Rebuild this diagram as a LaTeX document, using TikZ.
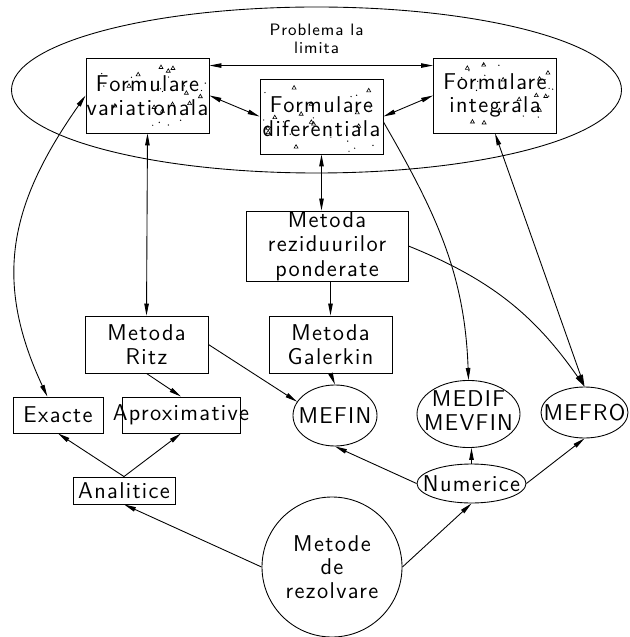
\documentclass[tikz,border=0pt]{standalone}
\usepackage{fontspec}
\setsansfont{Latin Modern Sans}[LetterSpace=6]
\usepackage{tikz}
\usetikzlibrary{shapes.geometric,arrows.meta}
\tikzset{
  frmnode/.style={draw,rectangle,minimum width=2.46cm,minimum height=1.50cm,
    font=\sffamily\fontsize{13}{13.5}\selectfont,align=center,inner sep=0pt},
  metnode/.style={draw,rectangle,
    font=\sffamily\fontsize{13}{14}\selectfont,align=center,inner sep=0pt},
  elnode/.style={draw,ellipse,
    font=\sffamily\fontsize{13}{13.5}\selectfont,align=center,inner sep=0pt},
  edgeB/.style={<->,line width=0.5pt},
  edgeO/.style={->,line width=0.5pt},
}
\newcommand{\stipple}[2]{%
  \pgfmathsetseed{#2}%
  \foreach \k in {1,...,12}{
    \pgfmathsetmacro{\stx}{1.12*rand}
    \pgfmathsetmacro{\sty}{0.66*rand}
    \draw[line width=0.35pt] ([shift={(\stx,\sty)}]#1.center) -- ++(0.08,0) -- ++(-0.04,0.07) -- cycle;
  }
  \foreach \k in {1,...,14}{
    \pgfmathsetmacro{\stx}{1.18*rand}
    \pgfmathsetmacro{\sty}{0.70*rand}
    \fill ([shift={(\stx,\sty)}]#1.center) circle (0.014);
  }
}

\begin{document}
\begin{tikzpicture}[line width=0.5pt,>={Triangle[length=2.4mm,width=0.9mm]}]
  \useasboundingbox (0,0) rectangle (12.58,-12.74);
  \node[draw,ellipse,minimum width=12.2cm,minimum height=3.32cm,inner sep=0pt] (pb) at (6.33,-1.80) {};
  \node[font=\sffamily\fontsize{9.4}{10.5}\selectfont,align=center] (pbl) at (6.33,-0.78) {Problema la\\limita};
  \node[frmnode] (var) at (2.95,-1.91) {Formulare\\variationala};
  \node[frmnode] (dif) at (6.43,-2.33) {Formulare\\diferentiala};
  \node[frmnode] (int) at (9.90,-1.91) {Formulare\\integrala};
  \stipple{var}{11}
  \stipple{dif}{23}
  \stipple{int}{37}
  \node[metnode,minimum width=3.24cm,minimum height=1.40cm] (rez) at (6.54,-4.92) {Metoda\\reziduurilor\\ponderate};
  \node[metnode,minimum width=2.46cm,minimum height=1.14cm] (ritz) at (2.93,-6.89) {Metoda\\Ritz};
  \node[metnode,minimum width=2.46cm,minimum height=1.14cm] (gal) at (6.61,-6.89) {Metoda\\Galerkin};
  \node[metnode,minimum width=1.80cm,minimum height=0.72cm] (exa) at (1.16,-8.30) {Exacte};
  \node[metnode,minimum width=2.36cm,minimum height=0.72cm] (apr) at (3.62,-8.30) {\makebox[0pt]{Aproximative}};
  \node[metnode,minimum width=2.04cm,minimum height=0.54cm] (ana) at (2.48,-9.81) {Analitice};
  \node[elnode,minimum width=1.68cm,minimum height=1.22cm] (mefin) at (6.70,-8.31) {\makebox[0pt]{MEFIN}};
  \node[elnode,minimum width=2.06cm,minimum height=1.28cm] (medif) at (9.37,-8.28) {\makebox[0pt]{\begin{tabular}{@{}c@{}}MEDIF\\MEVFIN\end{tabular}}};
  \node[elnode,minimum width=1.74cm,minimum height=1.02cm] (mefro) at (11.69,-8.25) {\makebox[0pt]{MEFRO}};
  \node[elnode,minimum width=2.18cm,minimum height=0.78cm] (num) at (9.43,-9.67) {\makebox[0pt]{Numerice}};
  \node[elnode,minimum width=2.80cm,minimum height=2.80cm] (met) at (6.64,-11.34) {Metode\\de\\rezolvare};
  \draw[edgeB] ([yshift=-0.16cm]var.north east) -- ([yshift=-0.16cm]int.north west);
  \draw[edgeB] (var.east) -- (dif.west);
  \draw[edgeB] (int.west) -- (dif.east);
  \draw[edgeB] (var.south) -- (ritz.north);
  \draw[edgeB] (dif.south) -- (dif.south |- rez.north);
  \draw[edgeB] (exa.120) to[out=115,in=235,looseness=1.1] (var.west);
  \draw[edgeB] (int.south) -- (mefro.north);
  \draw[edgeO] (gal.north |- rez.south) -- (gal.north);
  \draw[edgeO] (gal.south) -- (mefin.north);
  \draw[edgeO] (rez.east) to[out=-22,in=125] (mefro.north);
  \draw[edgeO] (dif.-5) to[out=-60,in=92] (medif.north);
  \draw[edgeO] (ritz.south) -- (apr.north);
  \draw[edgeO] (ritz.east) -- (mefin.160);
  \draw[edgeO] (ana.north) -- (exa.south);
  \draw[edgeO] (ana.north) -- (apr.south);
  \draw[edgeO] (met.west) -- (ana.south);
  \draw[edgeO] (met.east) -- (num.south);
  \draw[edgeO] (num.west) -- (mefin.south);
  \draw[edgeO] (num.north) -- (num.north |- medif.south);
  \draw[edgeO] (num.east) -- (mefro.south);
\end{tikzpicture}
\end{document}
